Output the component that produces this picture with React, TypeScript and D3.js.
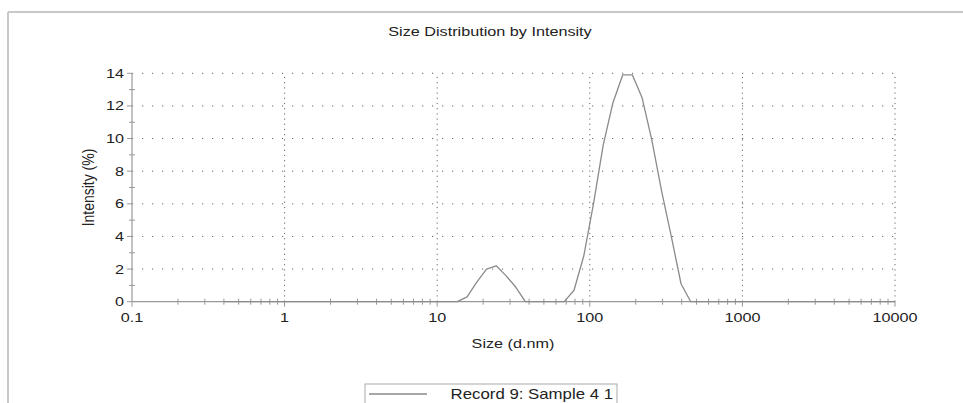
import React from 'react'
import * as d3 from 'd3'

// size bins (d.nm), with the intensity (%) at each
const sizes = [0.4, 13.54, 15.69, 18.17, 21.04, 24.36, 28.21, 32.67, 37.84, 68.06, 78.82, 91.28, 105.7, 122.4, 141.8, 164.2, 190.1, 220.2, 255.0, 295.3, 342.0, 396.1, 458.7, 10000]
const intensity = [0, 0, 0.3, 1.2, 2.0, 2.2, 1.6, 0.9, 0, 0, 0.7, 2.8, 6.0, 9.6, 12.2, 13.9, 13.9, 12.5, 9.9, 6.8, 4.0, 1.1, 0, 0]

const xTicks = [0.1, 1, 10, 100, 1000, 10000]
const xTickLabels = ['0.1', '1', '10', '100', '1000', '10000']
const yTicks = [0, 2, 4, 6, 8, 10, 12, 14]
const yMinorTicks = [1, 3, 5, 7, 9, 11, 13]

const title = 'Size Distribution by Intensity'
const xTitle = 'Size (d.nm)'
const yTitle = 'Intensity (%)'
const legendLabel = 'Record 9: Sample 4 1'

const W = 963
const H = 403
const font = '"Liberation Sans", Arial, sans-serif'
const stretch = 1.2 // the picture's text is a bit wide

function Txt({ x, y, size = 13.5, anchor = 'middle', rotate = 0, children }) {
  return (
    <text
      transform={`translate(${x},${y}) rotate(${rotate}) scale(${rotate ? 1 : stretch},${rotate ? stretch : 1})`}
      textAnchor={anchor}
      dominantBaseline="central"
      fontFamily={font}
      fontSize={size}
      fill="#222"
    >
      {children}
    </text>
  )
}

export default function App() {
  const x = d3.scaleLog().domain([0.1, 10000]).range([132, 895])
  const y = d3.scaleLinear().domain([0, 14]).range([301.7, 73.3])

  const minorX = []
  for (let d = 0.1; d < 10000; d *= 10) {
    for (let k = 2; k <= 9; k++) minorX.push(d * k)
  }

  const line = d3
    .line<number>()
    .x((d, i) => x(sizes[i]))
    .y((d) => y(d))

  const [x0, x1] = x.range()
  const [yb, yt] = y.range()

  return (
    <svg width={W} height={H} style={{ position: 'absolute', left: 0, top: 0, background: '#fff' }}>
      {/* frame */}
      <line x1={8} y1={12} x2={W} y2={12} stroke="#c8c8c8" strokeWidth={2} />
      <line x1={8} y1={12} x2={8} y2={H} stroke="#c8c8c8" strokeWidth={2} />

      <Txt x={490} y={31}>{title}</Txt>

      {/* grid */}
      {yTicks.slice(1).map((t) => (
        <line key={'gy' + t} x1={x0} x2={x1} y1={y(t)} y2={y(t)} stroke="#666" strokeWidth={1} strokeDasharray="1.2,8.8" />
      ))}
      {xTicks.slice(1).map((t) => (
        <line key={'gx' + t} x1={x(t)} x2={x(t)} y1={yb} y2={yt} stroke="#666" strokeWidth={1} strokeDasharray="1.2,4" />
      ))}

      {/* axes */}
      <line x1={x0} x2={x1} y1={yb} y2={yb} stroke="#999" strokeWidth={1.2} />
      <line x1={x0} x2={x0} y1={yb} y2={yt} stroke="#999" strokeWidth={1.2} />
      {yTicks.map((t) => (
        <line key={'ty' + t} x1={x0 - 5} x2={x0} y1={y(t)} y2={y(t)} stroke="#999" />
      ))}
      {yMinorTicks.map((t) => (
        <line key={'my' + t} x1={x0 - 3} x2={x0 + 3} y1={y(t)} y2={y(t)} stroke="#999" />
      ))}
      {xTicks.map((t) => (
        <line key={'tx' + t} x1={x(t)} x2={x(t)} y1={yb} y2={yb + 5} stroke="#999" />
      ))}
      {minorX.map((t, i) => (
        <line key={'mx' + i} x1={x(t)} x2={x(t)} y1={yb - 3} y2={yb + 3} stroke="#999" />
      ))}

      {yTicks.map((t) => (
        <Txt key={'ly' + t} x={x0 - 8} y={y(t)} anchor="end" size={13.5}>{t}</Txt>
      ))}
      {xTicks.map((t, i) => (
        <Txt key={'lx' + t} x={x(t)} y={317} size={13.5}>{xTickLabels[i]}</Txt>
      ))}

      <Txt x={513} y={343}>{xTitle}</Txt>
      <Txt x={88} y={(yb + yt) / 2} rotate={-90} size={14}>{yTitle}</Txt>

      {/* data */}
      <path d={line(intensity)} fill="none" stroke="#8a8a8a" strokeWidth={1.3} strokeLinejoin="round" />

      {/* legend */}
      <rect x={365} y={384} width={252} height={30} fill="#fff" stroke="#aaa" strokeWidth={1} />
      <line x1={369} x2={427} y1={394} y2={394} stroke="#8a8a8a" strokeWidth={1.3} />
      <Txt x={613} y={394} anchor="end" size={14}>{legendLabel}</Txt>
    </svg>
  )
}
